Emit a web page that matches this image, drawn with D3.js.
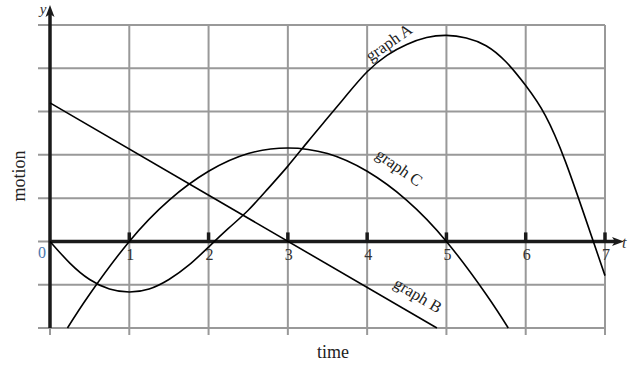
<!DOCTYPE html>
<html>
<head>
<meta charset="utf-8">
<script src="https://cdn.jsdelivr.net/npm/d3@7"></script>
<style>
  body { margin: 0; background: #fff; }
  svg text { font-family: "Liberation Serif", "Times New Roman", "DejaVu Serif", serif; }
</style>
</head>
<body>
<div id="chart"></div>
<script>
// values
let tTicks = [0, 1, 2, 3, 4, 5, 6, 7];
let tLabels = ["0", "1", "2", "3", "4", "5", "6", "7"];
let yGrid = [-2, -1, 0, 1, 2, 3, 4, 5];

let graphA = [[0, 0], [0.25, -0.5], [0.5, -0.88], [0.75, -1.1], [1, -1.17], [1.25, -1.1],
  [1.5, -0.88], [1.75, -0.55], [2, -0.13], [2.25, 0.3], [2.5, 0.72], [2.75, 1.22],
  [3, 1.74], [3.25, 2.3], [3.5, 2.85], [3.75, 3.4], [4, 3.92], [4.25, 4.3], [4.5, 4.55],
  [4.75, 4.71], [5, 4.76], [5.25, 4.7], [5.5, 4.52], [5.75, 4.15], [6, 3.6], [6.25, 2.9],
  [6.5, 1.85], [6.75, 0.55], [7, -0.79]];
let graphB = [[0, 3.2], [4.88, -2]];
let graphC = [[0.22, -2], [0.5, -1.22], [1, 0], [1.5, 0.95], [2, 1.62], [2.5, 2.03],
  [3, 2.16], [3.5, 2.03], [4, 1.62], [4.5, 0.95], [5, 0], [5.5, -1.22], [5.78, -2]];

let w = 642, h = 377;

let viz = d3.select("#chart").append("svg")
    .attr("width", w)
    .attr("height", h);

let xScale = d3.scaleLinear().domain([0, 7]).range([50, 605]);
let yScale = d3.scaleLinear().domain([-2, 5]).range([328, 25]);

// grid
viz.append("g").selectAll("line").data(yGrid).enter()
  .append("line")
    .attr("x1", 38)
    .attr("x2", xScale(7))
    .attr("y1", d => yScale(d))
    .attr("y2", d => yScale(d))
    .attr("stroke", "#999")
    .attr("stroke-width", 2);

viz.append("g").selectAll("line").data(tTicks).enter()
  .append("line")
    .attr("x1", d => xScale(d))
    .attr("x2", d => xScale(d))
    .attr("y1", yScale(5))
    .attr("y2", yScale(-2) + 7)
    .attr("stroke", "#999")
    .attr("stroke-width", 2);

// axes
let axisColor = "#1a1a1a";
viz.append("line")
    .attr("x1", xScale(0)).attr("x2", 616)
    .attr("y1", yScale(0)).attr("y2", yScale(0))
    .attr("stroke", axisColor).attr("stroke-width", 3.5);
viz.append("path")
    .attr("d", "M624," + yScale(0) + " L612," + (yScale(0) - 4.5) + " L615," + yScale(0) + " L612," + (yScale(0) + 4.5) + "Z")
    .attr("fill", axisColor);

viz.append("line")
    .attr("x1", xScale(0)).attr("x2", xScale(0))
    .attr("y1", yScale(-2)).attr("y2", 14)
    .attr("stroke", axisColor).attr("stroke-width", 3.5);
viz.append("path")
    .attr("d", "M" + xScale(0) + ",5 L" + (xScale(0) - 4.5) + ",17 L" + xScale(0) + ",14 L" + (xScale(0) + 4.5) + ",17Z")
    .attr("fill", axisColor);

// tick marks on the t axis
viz.append("g").selectAll("line").data(tTicks.slice(1)).enter()
  .append("line")
    .attr("x1", d => xScale(d))
    .attr("x2", d => xScale(d))
    .attr("y1", yScale(0) - 9)
    .attr("y2", yScale(0))
    .attr("stroke", axisColor)
    .attr("stroke-width", 3.5);

// tick labels
viz.append("g").selectAll("text").data(tTicks).enter()
  .append("text")
    .attr("x", d => d == 0 ? xScale(d) - 8 : xScale(d) + 1)
    .attr("y", d => d == 0 ? 258 : 260)
    .attr("text-anchor", "middle")
    .attr("font-size", "16px")
    .attr("fill", d => d == 0 ? "#4a78b0" : "#333")
    .text((d, i) => tLabels[i]);

viz.append("text")
    .attr("x", 622).attr("y", 248)
    .attr("font-size", "16px").attr("font-style", "italic")
    .attr("fill", "#333")
    .text("t");
viz.append("text")
    .attr("x", 43).attr("y", 14)
    .attr("text-anchor", "middle")
    .attr("font-size", "15px").attr("font-style", "italic")
    .attr("fill", "#333")
    .text("y");

viz.append("text")
    .attr("x", 333).attr("y", 358)
    .attr("text-anchor", "middle")
    .attr("font-size", "18px")
    .attr("fill", "#222")
    .text("time");
viz.append("text")
    .attr("transform", "translate(25,176) rotate(-90)")
    .attr("text-anchor", "middle")
    .attr("font-size", "18px")
    .attr("fill", "#222")
    .text("motion");

// curves
let line = d3.line()
    .x(d => xScale(d[0]))
    .y(d => yScale(d[1]))
    .curve(d3.curveNatural);

[graphA, graphB, graphC].forEach(function(s){
  viz.append("path")
      .datum(s)
      .attr("d", line)
      .attr("fill", "none")
      .attr("stroke", "#000")
      .attr("stroke-width", 1.6);
});

// curve labels
let labels = [
  {text: "graph A", x: 392, y: 47, a: -35},
  {text: "graph C", x: 396, y: 172, a: 35},
  {text: "graph B", x: 415, y: 300, a: 31}
];
viz.append("g").selectAll("text").data(labels).enter()
  .append("text")
    .attr("transform", d => "translate(" + d.x + "," + d.y + ") rotate(" + d.a + ")")
    .attr("text-anchor", "middle")
    .attr("font-size", "16.5px")
    .attr("fill", "#222")
    .text(d => d.text);
</script>
</body>
</html>
